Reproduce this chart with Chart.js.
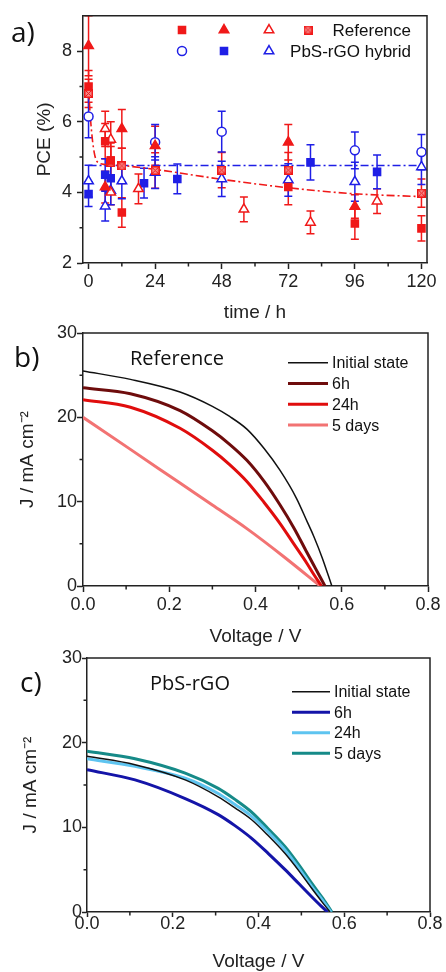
<!DOCTYPE html>
<html>
<head>
<meta charset="utf-8">
<script src="https://cdn.jsdelivr.net/npm/chart.js@4.4.0/dist/chart.umd.min.js"></script>
<style>
  body { margin: 0; background: #fff; width: 446px; height: 972px; position: relative; overflow: hidden; }
  .panel { position: absolute; left: 0; width: 446px; }
</style>
</head>
<body>
<div class="panel" style="top:0;height:326px"><canvas id="chartA"></canvas></div>
<div class="panel" style="top:320px;height:330px"><canvas id="chartB"></canvas></div>
<div class="panel" style="top:640px;height:332px"><canvas id="chartC"></canvas></div>
<script>
// ---- a) PCE vs time ----
var refSqT = [0, 6, 8, 12, 72, 96, 120];
var refSqV = [7.0, 5.45, 4.9, 3.43, 4.15, 3.12, 2.98];
var refSqE = [0.45, 0.5, 0.5, 0.42, 0.5, 0.45, 0.36];
var refTriT = [0, 6, 12, 24, 72, 96];
var refTriV = [8.15, 4.15, 5.8, 5.32, 5.42, 3.6];
var refTriE = [0.85, 0.45, 0.55, 0.55, 0.5, 0.33];
var refOpenT = [6, 8, 8, 18, 56, 80, 104];
var refOpenV = [5.8, 5.5, 4.0, 4.1, 3.52, 3.15, 3.75];
var refOpenE = [0.5, 0.5, 0.35, 0.42, 0.35, 0.32, 0.35];
var refHatchT = [0, 8, 12, 24, 48, 72, 120];
var refHatchV = [6.8, 4.85, 4.75, 4.62, 4.63, 4.63, 3.98];
var refHatchE = [0.4, 0.45, 0.5, 0.5, 0.5, 0.5, 0.4];
var hybCircT = [0, 24, 48, 96, 120];
var hybCircV = [6.15, 5.42, 5.72, 5.19, 5.14];
var hybCircE = [0.6, 0.5, 0.58, 0.52, 0.5];
var hybSqT = [0, 6, 8, 20, 32, 80, 104];
var hybSqV = [3.95, 4.5, 4.4, 4.26, 4.38, 4.85, 4.58];
var hybSqE = [0.35, 0.45, 0.4, 0.42, 0.42, 0.5, 0.48];
var hybTriT = [0, 6, 8, 12, 24, 48, 72, 96, 120];
var hybTriV = [4.32, 3.61, 4.05, 4.32, 4.56, 4.38, 4.35, 4.3, 4.72];
var hybTriE = [0.45, 0.42, 0.4, 0.5, 0.45, 0.5, 0.46, 0.55, 0.5];
var refFitT = [0, 0.5, 1, 1.5, 2, 2.5, 3, 4, 6, 12, 24, 48, 72, 96, 120];
var refFitV = [7.0, 6.3, 5.8, 5.42, 5.15, 4.97, 4.88, 4.82, 4.79, 4.76, 4.65, 4.37, 4.13, 3.96, 3.88];
var hybFitT = [0, 120];
var hybFitV = [4.76, 4.76];
var timeTicks = [0, 24, 48, 72, 96, 120];
var pceTicks = [2, 4, 6, 8];

// ---- b) J-V, Reference ----
var refLabels = ['Initial state', '6h', '24h', '5 days'];
var refV = [
  [0, 0.11, 0.225, 0.30, 0.34, 0.38, 0.42, 0.457, 0.495, 0.52, 0.535, 0.555, 0.577],
  [0, 0.11, 0.225, 0.30, 0.34, 0.38, 0.42, 0.457, 0.49, 0.519, 0.54, 0.561],
  [0, 0.11, 0.225, 0.30, 0.34, 0.38, 0.42, 0.457, 0.49, 0.519, 0.536, 0.553],
  [0, 0.11, 0.225, 0.30, 0.38, 0.465, 0.55]
];
var refJ = [
  [25.5, 24.5, 23.0, 21.3, 20.1, 18.6, 16.3, 13.7, 10.4, 7.6, 5.9, 3.3, 0],
  [23.5, 22.8, 20.8, 18.4, 16.8, 14.9, 12.4, 9.6, 6.8, 4.0, 2.0, 0],
  [22.1, 21.2, 18.7, 16.1, 14.4, 12.4, 9.9, 7.4, 4.9, 2.7, 1.3, 0],
  [20.0, 16.2, 12.2, 9.6, 6.8, 3.5, 0]
];

// ---- c) J-V, PbS-rGO ----
var hybLabels = ['Initial state', '6h', '24h', '5 days'];
var hybV = [
  [0, 0.112, 0.229, 0.306, 0.345, 0.384, 0.423, 0.462, 0.495, 0.524, 0.548, 0.567],
  [0, 0.112, 0.229, 0.306, 0.345, 0.384, 0.423, 0.462, 0.495, 0.524, 0.545, 0.561],
  [0, 0.112, 0.229, 0.306, 0.345, 0.384, 0.423, 0.462, 0.495, 0.524, 0.549, 0.569],
  [0, 0.112, 0.229, 0.306, 0.345, 0.384, 0.423, 0.462, 0.495, 0.524, 0.55, 0.571]
];
var hybJ = [
  [18.4, 17.4, 15.6, 13.6, 12.3, 10.9, 9.0, 6.9, 4.8, 2.8, 1.2, 0],
  [16.8, 15.6, 13.4, 11.5, 10.2, 8.7, 6.9, 5.0, 3.3, 1.8, 0.75, 0],
  [18.1, 17.2, 15.8, 14.0, 12.7, 11.3, 9.4, 7.3, 5.1, 3.0, 1.4, 0],
  [19.0, 18.1, 16.4, 14.6, 13.3, 11.8, 9.8, 7.7, 5.5, 3.4, 1.6, 0]
];
var voltTicks = [0, 0.2, 0.4, 0.6, 0.8];
var jTicks = [0, 10, 20, 30];

var RED = '#f01919', BLUE = '#1f1fe6';
var SANS = '"Liberation Sans", Arial, sans-serif';
Chart.defaults.font.family = SANS;
Chart.defaults.color = '#222';
Chart.defaults.animation = false;

function pts(t, v) {
  return t.map(function (x, i) { return {x: x, y: v[i]}; });
}

function hatchSquare(color) {
  var s = 9, c = document.createElement('canvas');
  c.width = s; c.height = s;
  var g = c.getContext('2d');
  g.fillStyle = '#f58a8a';
  g.fillRect(0, 0, s, s);
  g.strokeStyle = color;
  g.lineWidth = 1;
  g.beginPath();
  g.moveTo(0, 0); g.lineTo(s, s); g.moveTo(s, 0); g.lineTo(0, s);
  g.stroke();
  g.lineWidth = 1.5;
  g.strokeRect(0.75, 0.75, s - 1.5, s - 1.5);
  return c;
}

function axis(o) {
  return {
    type: 'linear', min: o.min, max: o.max,
    afterBuildTicks: function (s) { s.ticks = o.ticks.map(function (v) { return {value: v}; }); },
    afterFit: function (s) { if (o.width) s.width = o.width; if (o.height) s.height = o.height; },
    ticks: {font: {size: 18}, padding: o.pad, color: '#222', autoSkip: false, maxRotation: 0,
      callback: o.fmt || function (v) { return v; }},
    grid: {drawOnChartArea: false, tickLength: o.tick, tickWidth: 1.5, tickColor: '#222'},
    border: {color: '#222', width: 1.5},
    title: {display: true, text: o.title, color: '#222', font: {size: 19, lineHeight: 1}, padding: o.titlePad}
  };
}

// vertical error bars, drawn under the markers
var errorBars = {
  id: 'errorBars',
  beforeDatasetsDraw: function (chart) {
    var ctx = chart.ctx, a = chart.chartArea, ys = chart.scales.y;
    ctx.save();
    ctx.beginPath();
    ctx.rect(a.left, a.top, a.right - a.left, a.bottom - a.top);
    ctx.clip();
    chart.data.datasets.forEach(function (ds, i) {
      if (!ds.errors) return;
      var meta = chart.getDatasetMeta(i);
      ctx.strokeStyle = ds.borderColor;
      ctx.lineWidth = 1.5;
      ctx.beginPath();
      meta.data.forEach(function (pt, j) {
        var y1 = ys.getPixelForValue(ds.data[j].y + ds.errors[j]);
        var y2 = ys.getPixelForValue(ds.data[j].y - ds.errors[j]);
        ctx.moveTo(pt.x, y1); ctx.lineTo(pt.x, y2);
        ctx.moveTo(pt.x - 4, y1); ctx.lineTo(pt.x + 4, y1);
        ctx.moveTo(pt.x - 4, y2); ctx.lineTo(pt.x + 4, y2);
      });
      ctx.stroke();
    });
    ctx.restore();
  }
};

// frame, minor ticks, panel labels and legends
var decor = {
  id: 'decor',
  afterDraw: function (chart, args, o) {
    var ctx = chart.ctx, a = chart.chartArea, xs = chart.scales.x, ys = chart.scales.y;
    ctx.save();
    ctx.strokeStyle = '#222';
    ctx.lineWidth = 1.5;
    ctx.beginPath();
    ctx.moveTo(a.left, a.top); ctx.lineTo(a.right, a.top); ctx.lineTo(a.right, a.bottom);
    (o.minorX || []).forEach(function (v) {
      var p = xs.getPixelForValue(v);
      ctx.moveTo(p, a.bottom); ctx.lineTo(p, a.bottom + 3.5);
    });
    (o.minorY || []).forEach(function (v) {
      var p = ys.getPixelForValue(v);
      ctx.moveTo(a.left, p); ctx.lineTo(a.left - 3.5, p);
    });
    ctx.stroke();

    ctx.fillStyle = '#111';
    ctx.textAlign = 'left';
    ctx.textBaseline = 'alphabetic';
    (o.texts || []).forEach(function (t) {
      ctx.font = t.font;
      ctx.fillText(t.text, t.x, t.y);
    });

    var L = o.lineLegend;
    if (L) {
      chart.data.datasets.forEach(function (ds, i) {
        var y = L.y + i * L.step;
        ctx.strokeStyle = ds.borderColor;
        ctx.lineWidth = ds.borderWidth;
        ctx.beginPath(); ctx.moveTo(L.x1, y); ctx.lineTo(L.x2, y); ctx.stroke();
        ctx.fillStyle = '#111';
        ctx.font = '16px ' + SANS;
        ctx.textBaseline = 'middle';
        ctx.fillText(ds.label, L.x2 + 4, y + 1);
      });
    }

    var P = o.pointLegend;
    if (P) {
      P.rows.forEach(function (r) {
        r.sets.forEach(function (k, j) {
          var ds = chart.data.datasets[k];
          ctx.fillStyle = ds.backgroundColor;
          ctx.strokeStyle = ds.borderColor;
          ctx.lineWidth = ds.borderWidth;
          Chart.helpers.drawPoint(ctx, {pointStyle: ds.pointStyle, radius: ds.pointRadius, rotation: 0,
            borderWidth: ds.borderWidth}, r.xs[j], r.y);
        });
        ctx.fillStyle = '#111';
        ctx.font = '17px ' + SANS;
        ctx.textAlign = 'right';
        ctx.textBaseline = 'middle';
        ctx.fillText(r.text, P.right, r.y + 1);
      });
    }
    ctx.restore();
  }
};

function marker(label, t, v, e, style, radius, fill, color) {
  return {label: label, data: pts(t, v), errors: e, pointStyle: style, pointRadius: radius,
    backgroundColor: fill, borderColor: color, borderWidth: 1.5, showLine: false, clip: 10};
}

var hatch = hatchSquare(RED);

new Chart(document.getElementById('chartA'), {
  type: 'scatter',
  data: {
    datasets: [
      marker('Reference 1', refSqT, refSqV, refSqE, 'rect', 5, RED, RED),
      marker('Reference 2', refTriT, refTriV, refTriE, 'triangle', 5.5, RED, RED),
      marker('Reference 3', refOpenT, refOpenV, refOpenE, 'triangle', 5.5, '#fff', RED),
      marker('Reference 4', refHatchT, refHatchV, refHatchE, hatch, 5, RED, RED),
      marker('PbS-rGO hybrid 1', hybCircT, hybCircV, hybCircE, 'circle', 4.5, '#fff', BLUE),
      marker('PbS-rGO hybrid 2', hybSqT, hybSqV, hybSqE, 'rect', 5, BLUE, BLUE),
      marker('PbS-rGO hybrid 3', hybTriT, hybTriV, hybTriE, 'triangle', 5.5, '#fff', BLUE),
      {label: 'Reference fit', data: pts(refFitT, refFitV), showLine: true, pointRadius: 0,
        borderColor: RED, borderWidth: 1.6, borderDash: [8, 3, 2, 3], cubicInterpolationMode: 'monotone'},
      {label: 'PbS-rGO fit', data: pts(hybFitT, hybFitV), showLine: true, pointRadius: 0,
        borderColor: BLUE, borderWidth: 1.6, borderDash: [8, 3, 2, 3]}
    ]
  },
  options: {
    responsive: true, maintainAspectRatio: false,
    layout: {padding: {left: 0, right: 19, top: 12, bottom: 0}},
    scales: {
      x: axis({min: -2, max: 122, ticks: timeTicks, height: 63, pad: 2, tick: 6,
        title: 'time / h', titlePad: {top: 0, bottom: 3.5}}),
      y: axis({min: 2, max: 9, ticks: pceTicks, width: 83, pad: 5, tick: 6,
        title: 'PCE (%)', titlePad: {top: 35.5, bottom: 0}})
    },
    plugins: {
      legend: {display: false},
      tooltip: {enabled: false},
      decor: {
        minorX: [12, 36, 60, 84, 108],
        minorY: [3, 5, 7],
        texts: [{text: 'a)', x: 11, y: 42, font: '28px "Open Sans", sans-serif'}],
        pointLegend: {right: 411, rows: [
          {y: 30, sets: [0, 1, 2, 3], xs: [182, 224, 269, 308], text: 'Reference'},
          {y: 51, sets: [4, 5, 6], xs: [182, 224, 269], text: 'PbS-rGO hybrid'}
        ]}
      }
    }
  },
  plugins: [errorBars, decor]
});

function jvChart(id, labels, vs, js, colors, widths, o) {
  var datasets = labels.map(function (lab, i) {
    return {label: lab, data: pts(vs[i], js[i]), showLine: true, pointRadius: 0,
      borderColor: colors[i], borderWidth: widths[i], cubicInterpolationMode: 'monotone'};
  });
  return new Chart(document.getElementById(id), {
    type: 'scatter',
    data: {datasets: datasets},
    options: {
      responsive: true, maintainAspectRatio: false,
      layout: {padding: o.padding},
      scales: {
        x: axis({min: 0, max: 0.8, ticks: voltTicks, height: o.xHeight, pad: o.xPad, tick: o.tick,
          title: 'Voltage / V', titlePad: {top: 0, bottom: o.xTitlePad},
          fmt: function (v) { return v.toFixed(1); }}),
        y: axis({min: 0, max: 30, ticks: jTicks, width: o.yWidth, pad: o.yPad, tick: o.tick,
          title: 'J / mA cm⁻²', titlePad: {top: o.yTitlePad, bottom: 0}})
      },
      plugins: {
        legend: {display: false},
        tooltip: {enabled: false},
        decor: {
          minorX: [0.1, 0.3, 0.5, 0.7],
          minorY: [5, 15, 25],
          texts: o.texts,
          lineLegend: o.legend
        }
      }
    },
    plugins: [decor]
  });
}

jvChart('chartB', refLabels, refV, refJ, ['#111111', '#6e0c0c', '#e00d0d', '#f27373'], [1.5, 3, 3, 3], {
  padding: {left: 0, right: 18, top: 13, bottom: 0},
  xHeight: 64, xPad: 2, tick: 6, xTitlePad: 3.5, yWidth: 83, yPad: 0, yTitlePad: 18.5,
  texts: [
    {text: 'b)', x: 14, y: 47, font: '28px "Open Sans", sans-serif'},
    {text: 'Reference', x: 130, y: 45, font: '20px "Open Sans", sans-serif'}
  ],
  legend: {x1: 288, x2: 328, y: 42.7, step: 20.8}
});

jvChart('chartC', hybLabels, hybV, hybJ, ['#111111', '#1414a8', '#5ec4f0', '#168a88'], [1.5, 3, 3, 3], {
  padding: {left: 0, right: 16, top: 18, bottom: 0},
  xHeight: 60, xPad: -4, tick: 5, xTitlePad: 0.5, yWidth: 87, yPad: 0, yTitlePad: 21.5,
  texts: [
    {text: 'c)', x: 20, y: 52, font: '28px "Open Sans", sans-serif'},
    {text: 'PbS-rGO', x: 150, y: 50, font: '20px "Open Sans", sans-serif'}
  ],
  legend: {x1: 292, x2: 330, y: 51.7, step: 20.5}
});
</script>
</body>
</html>
